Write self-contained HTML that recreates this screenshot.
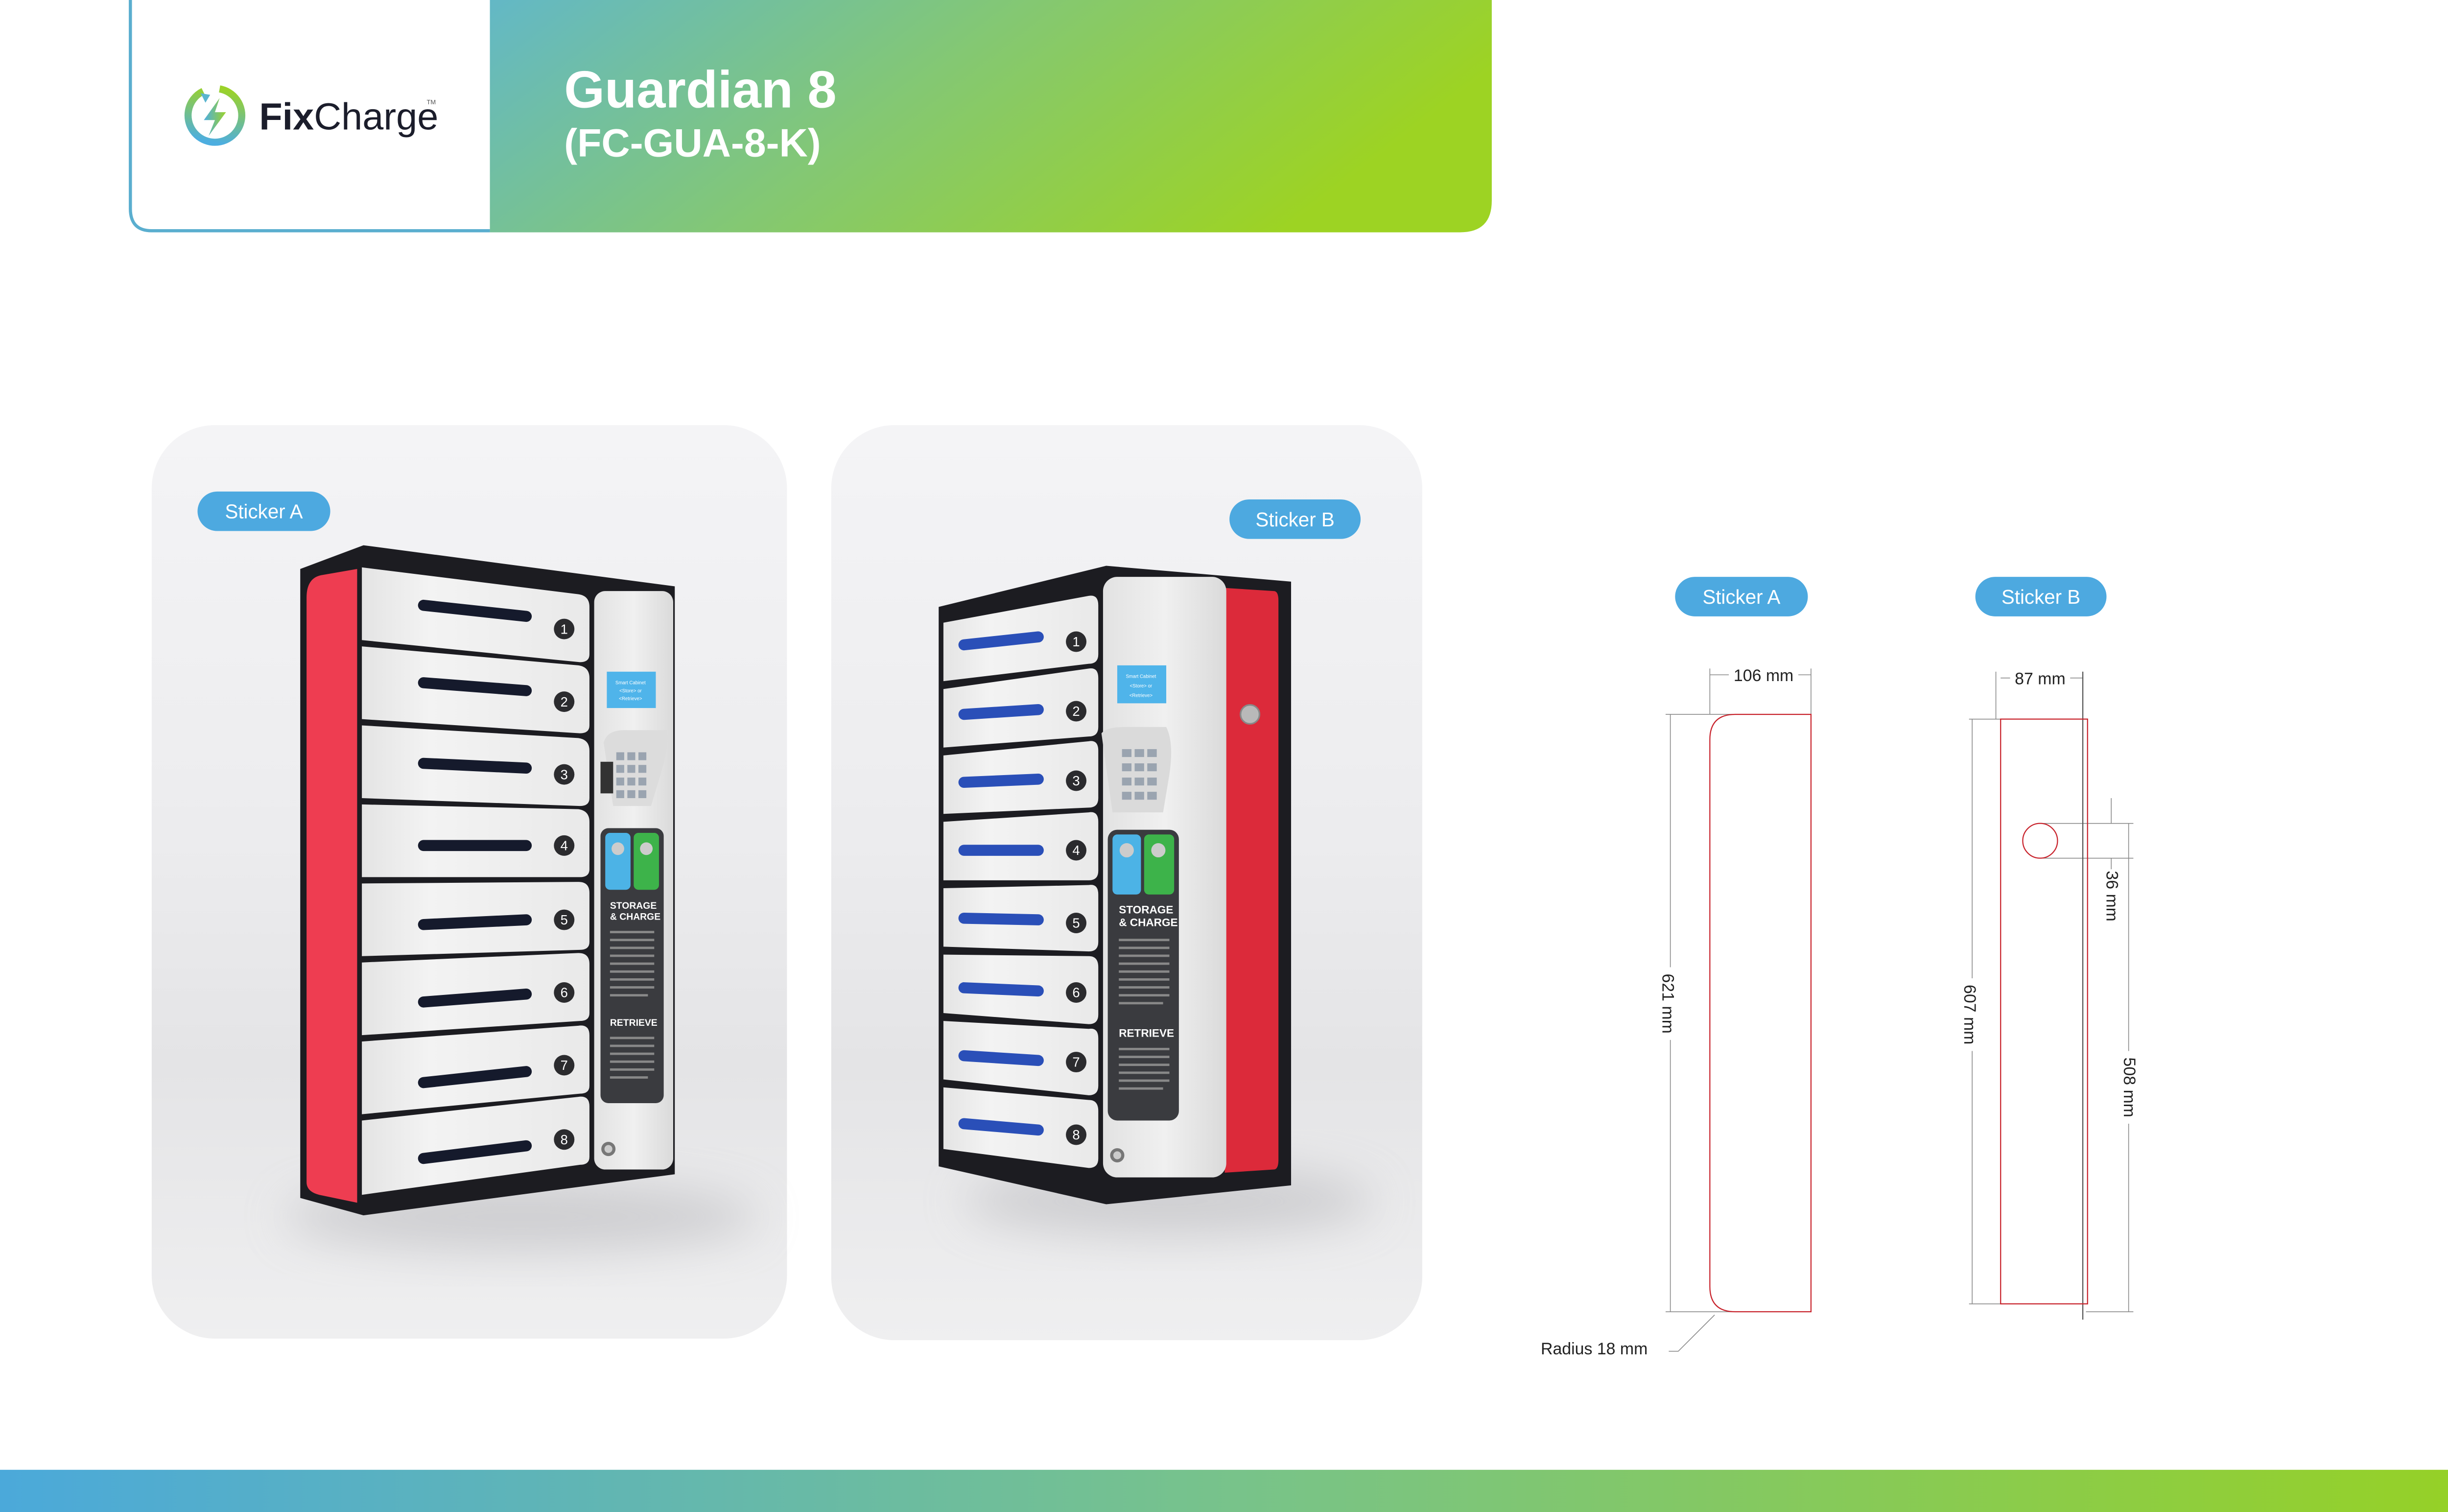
<!DOCTYPE html>
<html><head><meta charset="utf-8"><style>
html,body{margin:0;padding:0;background:#fff;width:5061px;height:3088px;overflow:hidden}
svg{display:block}
text{font-family:"Liberation Sans",sans-serif}
</style></head><body>
<svg width="5061" height="3088" viewBox="0 0 1568 956.7" preserveAspectRatio="none" xmlns="http://www.w3.org/2000/svg">
<defs>
<linearGradient id="hdr" x1="0" y1="0" x2="1" y2="0.3"><stop offset="0" stop-color="#63b8c6"/><stop offset="0.5" stop-color="#84c872"/><stop offset="1" stop-color="#9dd323"/></linearGradient>
<linearGradient id="bar" x1="0" x2="1"><stop offset="0" stop-color="#4ba9da"/><stop offset="0.5" stop-color="#78c38a"/><stop offset="1" stop-color="#96d125"/></linearGradient>
<linearGradient id="ring" x1="0" x2="1"><stop offset="0" stop-color="#4daee0"/><stop offset="1" stop-color="#9bd22a"/></linearGradient>
<linearGradient id="card" x1="0" y1="0" x2="0" y2="1"><stop offset="0" stop-color="#f4f4f6"/><stop offset="0.45" stop-color="#ececee"/><stop offset="0.7" stop-color="#e4e4e6"/><stop offset="1" stop-color="#efeff0"/></linearGradient>
<linearGradient id="door" x1="0" x2="1"><stop offset="0" stop-color="#e4e4e4"/><stop offset="0.3" stop-color="#f3f3f3"/><stop offset="1" stop-color="#e9e9e9"/></linearGradient>
<linearGradient id="pan" x1="0" x2="1"><stop offset="0" stop-color="#e2e2e2"/><stop offset="0.5" stop-color="#f0f0f0"/><stop offset="1" stop-color="#dadada"/></linearGradient>
<filter id="blur" x="-50%" y="-50%" width="200%" height="200%"><feGaussianBlur stdDeviation="14"/></filter>
</defs>

<!-- header -->
<path d="M310,0 H944 V127 Q944,147 924,147 H310 Z" fill="url(#hdr)"/>
<path d="M82.5,0 V132 Q82.5,146 96,146 H310" fill="none" stroke="#5aaecf" stroke-width="2"/>
<circle cx="136" cy="73" r="17" fill="none" stroke="url(#ring)" stroke-width="4.5" stroke-dasharray="96 11" transform="rotate(-80 136 73)"/>
<path d="M127,59 l6,1 -3,5z" fill="#5ab5cf"/>
<path d="M139,62 L129,76 H136 L132,86 L143,71 H136 Z" fill="url(#ring)"/>
<text x="164" y="82" font-size="24" fill="#1b1d2b"><tspan font-weight="bold">Fix</tspan><tspan>Charge</tspan></text>
<text x="270" y="66" font-size="4" fill="#555">TM</text>
<text x="357" y="68" font-size="33" font-weight="bold" fill="#fff">Guardian 8</text>
<text x="357" y="99" font-size="25" font-weight="bold" fill="#fff">(FC-GUA-8-K)</text>

<!-- bottom bar -->
<rect x="0" y="930" width="1568" height="27" fill="url(#bar)"/>

<!-- cards -->
<rect x="96" y="269" width="402" height="578" rx="40" fill="url(#card)"/>
<rect x="526" y="269" width="374" height="579" rx="40" fill="url(#card)"/>
<ellipse cx="330" cy="770" rx="150" ry="22" fill="#b8b8bc" opacity="0.55" filter="url(#blur)"/>
<ellipse cx="740" cy="760" rx="130" ry="22" fill="#b8b8bc" opacity="0.55" filter="url(#blur)"/>

<rect x="125" y="311" width="84" height="25" rx="12.5" fill="#4da9e0"/>
<text x="167" y="328" font-size="12.5" fill="#fff" text-anchor="middle">Sticker A</text>
<rect x="778" y="316" width="83" height="25" rx="12.5" fill="#4da9e0"/>
<text x="819.5" y="333" font-size="12.5" fill="#fff" text-anchor="middle">Sticker B</text>

<!-- LEFT LOCKER -->
<path d="M190,360 L230,345 L427,371 L427,743 L230,769 L190,758 Z" fill="#1c1c21"/>
<path d="M203,364 Q194,366 194,378 L194,748 Q194,754 202,756 L226,761 L226,360 Z" fill="#ee3d51"/>
<g fill="url(#door)">
<path d="M229,359 L366,376 Q373,377 373,384 L373,414 Q373,419 367,419 L229,405 Z"/>
<path d="M229,409 L366,421 Q373,422 373,429 L373,459 Q373,464 367,464 L229,455 Z"/>
<path d="M229,459 L366,467 Q373,468 373,475 L373,505 Q373,510 367,510 L229,505 Z"/>
<path d="M229,509 L366,512 Q373,513 373,520 L373,550 Q373,555 367,555 L229,555 Z"/>
<path d="M229,559 L366,558 Q373,558 373,565 L373,596 Q373,601 367,601 L229,605 Z"/>
<path d="M229,609 L366,603 Q373,603 373,610 L373,641 Q373,646 367,646 L229,655 Z"/>
<path d="M229,659 L366,649 Q373,648 373,655 L373,687 Q373,692 367,692 L229,705 Z"/>
<path d="M229,709 L366,694 Q373,693 373,700 L373,732 Q373,737 367,737 L229,756 Z"/>
</g>
<g stroke="#151a2c" stroke-width="7" stroke-linecap="round">
<line x1="268" y1="383" x2="333" y2="390"/>
<line x1="268" y1="432" x2="333" y2="437"/>
<line x1="268" y1="483" x2="333" y2="486"/>
<line x1="268" y1="535" x2="333" y2="535"/>
<line x1="268" y1="585" x2="333" y2="582"/>
<line x1="268" y1="634" x2="333" y2="629"/>
<line x1="268" y1="685" x2="333" y2="678"/>
<line x1="268" y1="733" x2="333" y2="725"/>
</g>
<g fill="#2b2b2e"><circle cx="357" cy="398" r="6.5"/><circle cx="357" cy="444" r="6.5"/><circle cx="357" cy="490" r="6.5"/><circle cx="357" cy="535" r="6.5"/><circle cx="357" cy="582" r="6.5"/><circle cx="357" cy="628" r="6.5"/><circle cx="357" cy="674" r="6.5"/><circle cx="357" cy="721" r="6.5"/></g>
<g fill="#fff" font-size="8.5" text-anchor="middle"><text x="357" y="401">1</text><text x="357" y="447">2</text><text x="357" y="493">3</text><text x="357" y="538">4</text><text x="357" y="585">5</text><text x="357" y="631">6</text><text x="357" y="677">7</text><text x="357" y="724">8</text></g>
<rect x="376" y="374" width="50" height="366" rx="7" fill="url(#pan)"/>
<rect x="384" y="425" width="31" height="23" fill="#4fb4ea"/>
<text x="399" y="433" font-size="3" fill="#fff" text-anchor="middle">Smart Cabinet</text>
<text x="399" y="438" font-size="3" fill="#fff" text-anchor="middle">&lt;Store&gt; or</text>
<text x="399" y="443" font-size="3" fill="#fff" text-anchor="middle">&lt;Retrieve&gt;</text>
<path d="M382,470 Q384,462 395,462 H422 Q424,470 418,490 L412,510 H388 Z" fill="#dcdcdc"/>
<rect x="380" y="482" width="8" height="20" fill="#333"/>
<g fill="#9aa4b0"><rect x="390" y="476" width="5" height="5"/><rect x="397" y="476" width="5" height="5"/><rect x="404" y="476" width="5" height="5"/><rect x="390" y="484" width="5" height="5"/><rect x="397" y="484" width="5" height="5"/><rect x="404" y="484" width="5" height="5"/><rect x="390" y="492" width="5" height="5"/><rect x="397" y="492" width="5" height="5"/><rect x="404" y="492" width="5" height="5"/><rect x="390" y="500" width="5" height="5"/><rect x="397" y="500" width="5" height="5"/><rect x="404" y="500" width="5" height="5"/></g>
<rect x="380" y="524" width="40" height="174" rx="5" fill="#3a3b3f"/>
<rect x="383" y="527" width="16" height="36" rx="3" fill="#4cb3e6"/>
<rect x="401" y="527" width="16" height="36" rx="3" fill="#3db34a"/>
<circle cx="391" cy="537" r="4" fill="#ccc"/><circle cx="409" cy="537" r="4" fill="#ccc"/>
<text x="386" y="575" font-size="6" font-weight="bold" fill="#fff">STORAGE</text>
<text x="386" y="582" font-size="6" font-weight="bold" fill="#fff">&amp; CHARGE</text>
<g fill="#888"><rect x="386" y="589" width="28" height="1.5"/><rect x="386" y="594" width="28" height="1.5"/><rect x="386" y="599" width="28" height="1.5"/><rect x="386" y="604" width="28" height="1.5"/><rect x="386" y="609" width="28" height="1.5"/><rect x="386" y="614" width="28" height="1.5"/><rect x="386" y="619" width="28" height="1.5"/><rect x="386" y="624" width="28" height="1.5"/><rect x="386" y="629" width="24" height="1.5"/>
<rect x="386" y="656" width="28" height="1.5"/><rect x="386" y="661" width="28" height="1.5"/><rect x="386" y="666" width="28" height="1.5"/><rect x="386" y="671" width="28" height="1.5"/><rect x="386" y="676" width="28" height="1.5"/><rect x="386" y="681" width="24" height="1.5"/></g>
<text x="386" y="649" font-size="6" font-weight="bold" fill="#fff">RETRIEVE</text>
<circle cx="385" cy="727" r="4.5" fill="#777"/><circle cx="385" cy="727" r="2.5" fill="#ccc"/>

<!-- RIGHT LOCKER -->
<path d="M594,384 L700,358 L817,368 L817,750 L700,762 L594,738 Z" fill="#1c1c21"/>
<path d="M775,372 L806,374 Q809,374 809,380 L809,734 Q809,740 806,740 L775,742 Z" fill="#dc2a3a"/>
<g fill="url(#door)">
<path d="M597,394 L689,377 Q695,376 695,383 L695,414 Q695,420 689,420 L597,431 Z"/>
<path d="M597,436 L689,423 Q695,422 695,429 L695,460 Q695,466 689,466 L597,473 Z"/>
<path d="M597,478 L689,469 Q695,468 695,475 L695,505 Q695,511 689,511 L597,515 Z"/>
<path d="M597,520 L689,514 Q695,513 695,520 L695,551 Q695,557 689,557 L597,557 Z"/>
<path d="M597,562 L689,560 Q695,559 695,566 L695,596 Q695,602 689,602 L597,599 Z"/>
<path d="M597,604 L689,605 Q695,605 695,612 L695,642 Q695,648 689,648 L597,641 Z"/>
<path d="M597,646 L689,651 Q695,650 695,657 L695,687 Q695,693 689,693 L597,683 Z"/>
<path d="M597,688 L689,696 Q695,696 695,703 L695,733 Q695,739 689,739 L597,727 Z"/>
</g>
<g stroke="#2a4fb8" stroke-width="7" stroke-linecap="round">
<line x1="610" y1="408" x2="657" y2="403"/>
<line x1="610" y1="452" x2="657" y2="449"/>
<line x1="610" y1="495" x2="657" y2="493"/>
<line x1="610" y1="538" x2="657" y2="538"/>
<line x1="610" y1="581" x2="657" y2="582"/>
<line x1="610" y1="625" x2="657" y2="627"/>
<line x1="610" y1="668" x2="657" y2="671"/>
<line x1="610" y1="711" x2="657" y2="715"/>
</g>
<g fill="#2b2b2e"><circle cx="681" cy="406" r="6.5"/><circle cx="681" cy="450" r="6.5"/><circle cx="681" cy="494" r="6.5"/><circle cx="681" cy="538" r="6.5"/><circle cx="681" cy="584" r="6.5"/><circle cx="681" cy="628" r="6.5"/><circle cx="681" cy="672" r="6.5"/><circle cx="681" cy="718" r="6.5"/></g>
<g fill="#fff" font-size="8.5" text-anchor="middle"><text x="681" y="409">1</text><text x="681" y="453">2</text><text x="681" y="497">3</text><text x="681" y="541">4</text><text x="681" y="587">5</text><text x="681" y="631">6</text><text x="681" y="675">7</text><text x="681" y="721">8</text></g>
<rect x="698" y="365" width="78" height="380" rx="9" fill="url(#pan)"/>
<rect x="707" y="421" width="31" height="24" fill="#4fb4ea"/>
<text x="722" y="429" font-size="3" fill="#fff" text-anchor="middle">Smart Cabinet</text>
<text x="722" y="435" font-size="3" fill="#fff" text-anchor="middle">&lt;Store&gt; or</text>
<text x="722" y="441" font-size="3" fill="#fff" text-anchor="middle">&lt;Retrieve&gt;</text>
<path d="M697,464 Q700,460 712,460 H738 Q743,470 740,490 L736,514 H704 Z" fill="#dadada"/>
<g fill="#9aa4b0"><rect x="710" y="474" width="6" height="5"/><rect x="718" y="474" width="6" height="5"/><rect x="726" y="474" width="6" height="5"/><rect x="710" y="483" width="6" height="5"/><rect x="718" y="483" width="6" height="5"/><rect x="726" y="483" width="6" height="5"/><rect x="710" y="492" width="6" height="5"/><rect x="718" y="492" width="6" height="5"/><rect x="726" y="492" width="6" height="5"/><rect x="710" y="501" width="6" height="5"/><rect x="718" y="501" width="6" height="5"/><rect x="726" y="501" width="6" height="5"/></g>
<rect x="701" y="525" width="45" height="184" rx="6" fill="#3a3b3f"/>
<rect x="704" y="528" width="18" height="38" rx="3" fill="#4cb3e6"/>
<rect x="724" y="528" width="19" height="38" rx="3" fill="#3db34a"/>
<circle cx="713" cy="538" r="4.5" fill="#ccc"/><circle cx="733" cy="538" r="4.5" fill="#ccc"/>
<text x="708" y="578" font-size="7" font-weight="bold" fill="#fff">STORAGE</text>
<text x="708" y="586" font-size="7" font-weight="bold" fill="#fff">&amp; CHARGE</text>
<g fill="#888"><rect x="708" y="594" width="32" height="1.5"/><rect x="708" y="599" width="32" height="1.5"/><rect x="708" y="604" width="32" height="1.5"/><rect x="708" y="609" width="32" height="1.5"/><rect x="708" y="614" width="32" height="1.5"/><rect x="708" y="619" width="32" height="1.5"/><rect x="708" y="624" width="32" height="1.5"/><rect x="708" y="629" width="32" height="1.5"/><rect x="708" y="634" width="28" height="1.5"/>
<rect x="708" y="663" width="32" height="1.5"/><rect x="708" y="668" width="32" height="1.5"/><rect x="708" y="673" width="32" height="1.5"/><rect x="708" y="678" width="32" height="1.5"/><rect x="708" y="683" width="32" height="1.5"/><rect x="708" y="688" width="28" height="1.5"/></g>
<text x="708" y="656" font-size="7" font-weight="bold" fill="#fff">RETRIEVE</text>
<circle cx="707" cy="731" r="4.5" fill="#777"/><circle cx="707" cy="731" r="2.5" fill="#ccc"/>
<circle cx="791" cy="452" r="6" fill="#b9b9b9" stroke="#888" stroke-width="1"/>

<!-- STICKER DRAWINGS -->
<rect x="1060" y="365" width="84" height="25" rx="12.5" fill="#4da9e0"/>
<text x="1102" y="382" font-size="12.5" fill="#fff" text-anchor="middle">Sticker A</text>
<rect x="1250" y="365" width="83" height="25" rx="12.5" fill="#4da9e0"/>
<text x="1291.5" y="382" font-size="12.5" fill="#fff" text-anchor="middle">Sticker B</text>

<g stroke="#8a8a8a" stroke-width="0.5" fill="none">
<line x1="1082" y1="423" x2="1082" y2="452"/><line x1="1146" y1="423" x2="1146" y2="452"/>
<line x1="1082" y1="427" x2="1146" y2="427"/>
<line x1="1054" y1="452" x2="1098" y2="452"/><line x1="1054" y1="830" x2="1098" y2="830"/>
<line x1="1057" y1="452" x2="1057" y2="830"/>
<polyline points="1056,855 1062,855 1085,832"/>
<line x1="1263" y1="425" x2="1263" y2="455"/>
<line x1="1266" y1="429" x2="1318" y2="429"/>
<line x1="1246" y1="455" x2="1266" y2="455"/><line x1="1246" y1="825" x2="1266" y2="825"/>
<line x1="1248" y1="455" x2="1248" y2="825"/>
<line x1="1291" y1="521" x2="1350" y2="521"/><line x1="1291" y1="543" x2="1350" y2="543"/>
<line x1="1336" y1="505" x2="1336" y2="521"/><line x1="1336" y1="543" x2="1336" y2="550"/>
<line x1="1347" y1="521" x2="1347" y2="830"/><line x1="1320" y1="830" x2="1350" y2="830"/>
</g>
<line x1="1318" y1="425" x2="1318" y2="835" stroke="#555" stroke-width="0.7"/>
<path d="M1098,452 H1146 V830 H1098 Q1082,830 1082,814 V468 Q1082,452 1098,452 Z" fill="none" stroke="#c8232c" stroke-width="0.7"/>
<rect x="1266" y="455" width="55" height="370" fill="none" stroke="#c8232c" stroke-width="0.7"/>
<ellipse cx="1291" cy="532" rx="11" ry="11" fill="#fff" stroke="#c8232c" stroke-width="0.7"/>

<g font-size="10.5" fill="#222">
<rect x="1094" y="420" width="44" height="14" fill="#fff"/>
<text x="1116" y="431" text-anchor="middle">106 mm</text>
<rect x="1272" y="422" width="38" height="14" fill="#fff"/>
<text x="1291" y="433" text-anchor="middle">87 mm</text>
<rect x="1050" y="612" width="14" height="46" fill="#fff"/>
<text transform="translate(1052,635) rotate(90)" text-anchor="middle">621 mm</text>
<rect x="1241" y="619" width="14" height="46" fill="#fff"/>
<text transform="translate(1243,642) rotate(90)" text-anchor="middle">607 mm</text>
<text transform="translate(1333,567) rotate(90)" text-anchor="middle">36 mm</text>
<rect x="1341" y="665" width="14" height="46" fill="#fff"/>
<text transform="translate(1344,688) rotate(90)" text-anchor="middle">508 mm</text>
<text x="975" y="857">Radius 18 mm</text>
</g>
</svg>
</body></html>
